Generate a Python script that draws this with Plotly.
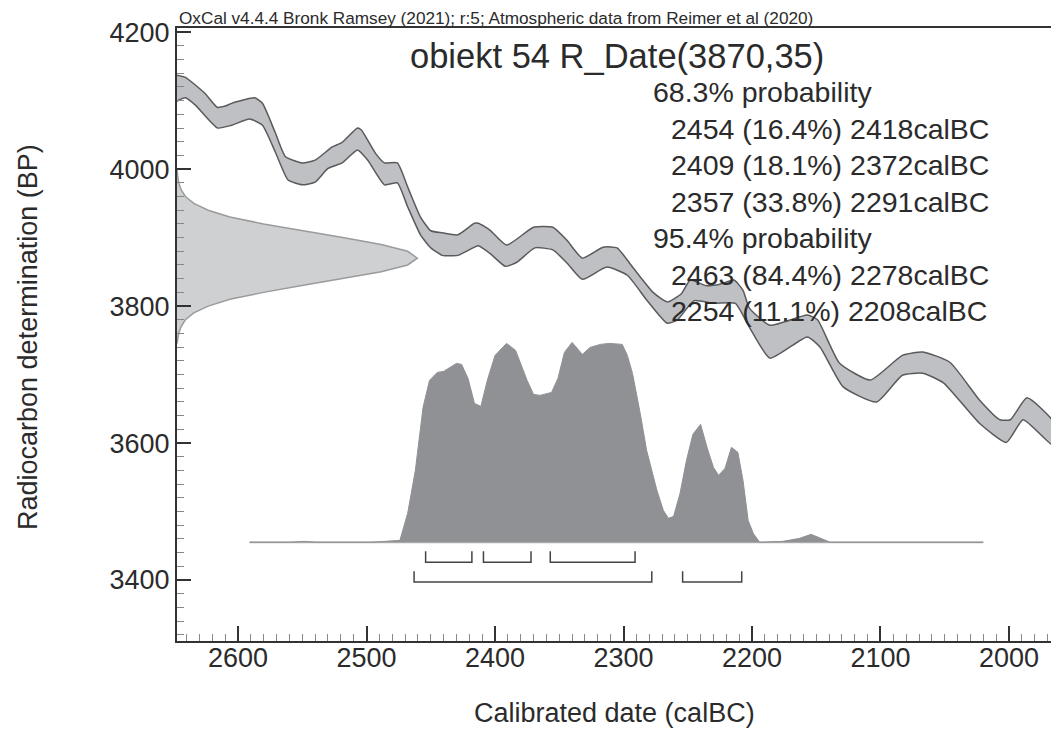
import plotly.graph_objects as go

# ---------------- data ----------------
# calibration curve band: upper edge (calBC, BP)
upper_year = [2650, 2641, 2626, 2616, 2610, 2605, 2587, 2581, 2571, 2563, 2550, 2540, 2527, 2519,
              2507, 2504, 2493, 2486, 2476, 2468, 2458, 2450, 2441, 2429, 2416, 2413, 2404, 2391,
              2370, 2355, 2344, 2332, 2316, 2305, 2293, 2277, 2266, 2255, 2248, 2236, 2225, 2214,
              2207, 2202, 2186, 2157, 2149, 2132, 2108, 2083, 2067, 2046, 2023, 2007, 1999, 1986, 1966]
upper_bp = [4138, 4134, 4111, 4090, 4092, 4096, 4104, 4096, 4053, 4018, 4009, 4013, 4032, 4039,
            4060, 4057, 4023, 4009, 4009, 3974, 3930, 3910, 3907, 3904, 3921, 3921, 3911, 3889,
            3915, 3915, 3896, 3870, 3886, 3885, 3857, 3820, 3806, 3818, 3838, 3830, 3832, 3838,
            3823, 3797, 3772, 3787, 3780, 3717, 3692, 3728, 3733, 3718, 3663, 3634, 3634, 3666, 3632]
# lower edge
lower_year = [2650, 2641, 2633, 2616, 2605, 2591, 2581, 2571, 2561, 2550, 2540, 2530, 2519, 2507,
              2499, 2486, 2476, 2468, 2458, 2450, 2441, 2429, 2416, 2413, 2404, 2392, 2383, 2369,
              2355, 2344, 2332, 2313, 2297, 2282, 2266, 2258, 2245, 2230, 2213, 2202, 2186, 2157,
              2147, 2129, 2103, 2083, 2067, 2051, 2023, 2002, 1989, 1966]
lower_bp = [4097, 4104, 4093, 4060, 4064, 4073, 4064, 4025, 3984, 3977, 3981, 4001, 4009, 4028,
            4013, 3977, 3980, 3945, 3904, 3885, 3874, 3874, 3886, 3888, 3877, 3858, 3864, 3885,
            3882, 3863, 3839, 3857, 3845, 3809, 3775, 3780, 3808, 3804, 3804, 3769, 3724, 3755,
            3740, 3682, 3660, 3699, 3702, 3688, 3629, 3601, 3634, 3597]

# radiocarbon date R_Date(3870,35): relative density at BP values
rc_bp = [3745, 3750, 3760, 3770, 3780, 3790, 3800, 3810, 3820, 3830, 3840, 3850, 3860, 3870,
         3880, 3890, 3900, 3910, 3920, 3930, 3940, 3950, 3960, 3970, 3980, 3990, 4000]
rc_dens = [0.0, 0.003, 0.007, 0.017, 0.035, 0.07, 0.13, 0.22, 0.36, 0.52, 0.69, 0.85, 0.96, 1.0,
           0.96, 0.85, 0.69, 0.52, 0.36, 0.22, 0.13, 0.07, 0.035, 0.017, 0.007, 0.003, 0.0]

# calibrated distribution: relative probability by calBC year
cal_year = [2591, 2560, 2549, 2539, 2497, 2484, 2474, 2468, 2462, 2456, 2451, 2445, 2440, 2435,
            2430, 2426, 2421, 2416, 2411, 2406, 2400, 2391, 2384, 2375, 2370, 2365, 2356, 2351,
            2346, 2340, 2332, 2326, 2318, 2311, 2301, 2297, 2293, 2287, 2282, 2274, 2269, 2265,
            2261, 2256, 2251, 2246, 2240, 2235, 2230, 2226, 2221, 2216, 2211, 2207, 2203, 2199,
            2194, 2176, 2163, 2154, 2147, 2139, 2020]
cal_prob = [0, 0, 0.005, 0, 0, 0.005, 0.01, 0.145, 0.36, 0.675, 0.81, 0.85, 0.855, 0.875,
            0.895, 0.89, 0.82, 0.695, 0.68, 0.81, 0.935, 0.995, 0.96, 0.81, 0.74, 0.735, 0.75, 0.82,
            0.95, 1.0, 0.94, 0.975, 0.99, 0.995, 0.99, 0.935, 0.845, 0.645, 0.46, 0.26, 0.16, 0.12,
            0.13, 0.245, 0.41, 0.54, 0.59, 0.475, 0.375, 0.335, 0.37, 0.475, 0.45, 0.31, 0.11, 0.045,
            0, 0.005, 0.02, 0.04, 0.02, 0, 0]

ranges_68 = [(2454, 2418), (2409, 2372), (2357, 2291)]
ranges_95 = [(2463, 2278), (2254, 2208)]

title_text = "obiekt 54 R_Date(3870,35)"
header_text = "OxCal v4.4.4 Bronk Ramsey (2021); r:5; Atmospheric data from Reimer et al (2020)"
prob_lines = [
    ("68.3% probability", 0),
    ("2454 (16.4%) 2418calBC", 1),
    ("2409 (18.1%) 2372calBC", 1),
    ("2357 (33.8%) 2291calBC", 1),
    ("95.4% probability", 0),
    ("2463 (84.4%) 2278calBC", 1),
    ("2254 (11.1%) 2208calBC", 1),
]

# ---------------- layout constants ----------------
X_LEFT, X_RIGHT = 2647.5, 1967.3
Y_BOTTOM, Y_TOP = 3311, 4206
RC_WIDTH = 187          # horizontal extent (years) of radiocarbon density peak
CAL_BASE = 3455         # BP level of calibrated distribution baseline
CAL_HEIGHT = 292        # BP height of calibrated distribution peak
TXT = "#2b2b2b"
FONT = "Liberation Sans, Arial, sans-serif"

fig = go.Figure()

# calibration curve band
fig.add_trace(go.Scatter(
    x=upper_year + lower_year[::-1], y=upper_bp + lower_bp[::-1],
    fill="toself", fillcolor="#bfc0c3", mode="lines",
    line=dict(color="#5a5a5c", width=1.5, shape="spline", smoothing=0.5),
    hoverinfo="skip", showlegend=False))

# radiocarbon determination (on y axis)
rc_x = [X_LEFT] + [X_LEFT - d * RC_WIDTH for d in rc_dens] + [X_LEFT]
rc_y = [rc_bp[0]] + rc_bp + [rc_bp[-1]]
fig.add_trace(go.Scatter(
    x=rc_x, y=rc_y, fill="toself", fillcolor="#cfd0d2", mode="lines",
    line=dict(color="#9a9b9d", width=1.5), hoverinfo="skip", showlegend=False))

# calibrated distribution baseline
fig.add_trace(go.Scatter(
    x=[cal_year[0], cal_year[-1]], y=[CAL_BASE, CAL_BASE], mode="lines",
    line=dict(color="#b4b5b7", width=2), hoverinfo="skip", showlegend=False))
# calibrated distribution
fig.add_trace(go.Scatter(
    x=cal_year, y=[CAL_BASE + p * CAL_HEIGHT for p in cal_prob],
    fill="toself", fillcolor="#909195", mode="lines",
    line=dict(color="#909195", width=1), hoverinfo="skip", showlegend=False))

# range brackets
def add_brackets(ranges, bottom, top):
    for a, b in ranges:
        fig.add_trace(go.Scatter(
            x=[a, a, b, b], y=[top, bottom, bottom, top], mode="lines",
            line=dict(color="#444444", width=1.5), hoverinfo="skip", showlegend=False))

add_brackets(ranges_68, 3426, 3442)
add_brackets(ranges_95, 3397, 3413)

# ---------------- annotations ----------------
ann = []
ann.append(dict(text=header_text, x=0, y=1 + 10 / 613, xref="paper", yref="paper",
                xanchor="left", yanchor="middle", showarrow=False,
                font=dict(family=FONT, size=17.2, color=TXT)))
ann.append(dict(text=title_text, x=(617 - 177) / 874, y=(641 - 56) / 613, xref="paper", yref="paper",
                xanchor="center", yanchor="middle", showarrow=False,
                font=dict(family=FONT, size=34.5, color=TXT)))
for i, (t, indent) in enumerate(prob_lines):
    px = 651 if indent == 0 else 669
    py = 92 + i * 36.5
    ann.append(dict(text=t, x=(px - 177) / 874, y=(641 - py) / 613, xref="paper", yref="paper",
                    xanchor="left", yanchor="middle", showarrow=False,
                    font=dict(family=FONT, size=28.5, color=TXT)))
ann.append(dict(text="Calibrated date (calBC)", x=(614 - 177) / 874, y=(641 - 713) / 613,
                xref="paper", yref="paper", xanchor="center", yanchor="middle", showarrow=False,
                font=dict(family=FONT, size=27, color=TXT)))
ann.append(dict(text="Radiocarbon determination (BP)", x=(28 - 177) / 874, y=(641 - 337) / 613,
                xref="paper", yref="paper", xanchor="center", yanchor="middle", showarrow=False,
                textangle=-90, font=dict(family=FONT, size=27, color=TXT)))

fig.update_layout(
    width=1051, height=731,
    margin=dict(l=177, r=0, t=28, b=90),
    paper_bgcolor="white", plot_bgcolor="white",
    showlegend=False, annotations=ann,
    font=dict(family=FONT, color=TXT),
)
fig.update_xaxes(
    range=[X_LEFT, X_RIGHT], showgrid=False, zeroline=False,
    showline=True, linecolor="#333333", linewidth=2, mirror=True,
    ticks="inside", ticklen=15, tickwidth=1.5, tickcolor="#333333",
    tick0=2000, dtick=100, tickfont=dict(family=FONT, size=27, color=TXT),
    ticklabelstandoff=-8,
    minor=dict(dtick=10, tick0=2000, ticks="inside", ticklen=7, tickwidth=1, tickcolor="#888888"),
)
fig.update_yaxes(
    range=[Y_BOTTOM, Y_TOP], showgrid=False, zeroline=False,
    showline=True, linecolor="#333333", linewidth=2, mirror=False,
    ticks="inside", ticklen=14, tickwidth=1.5, tickcolor="#333333",
    tick0=3400, dtick=200, tickfont=dict(family=FONT, size=27, color=TXT),
    minor=dict(dtick=20, tick0=3400, ticks="inside", ticklen=7, tickwidth=1, tickcolor="#888888"),
)

fig.write_html(
    "out.html",
    config={"displayModeBar": False},
    post_script="document.body.style.margin='0';document.body.style.padding='0';"
                "document.body.style.overflow='hidden';",
)
